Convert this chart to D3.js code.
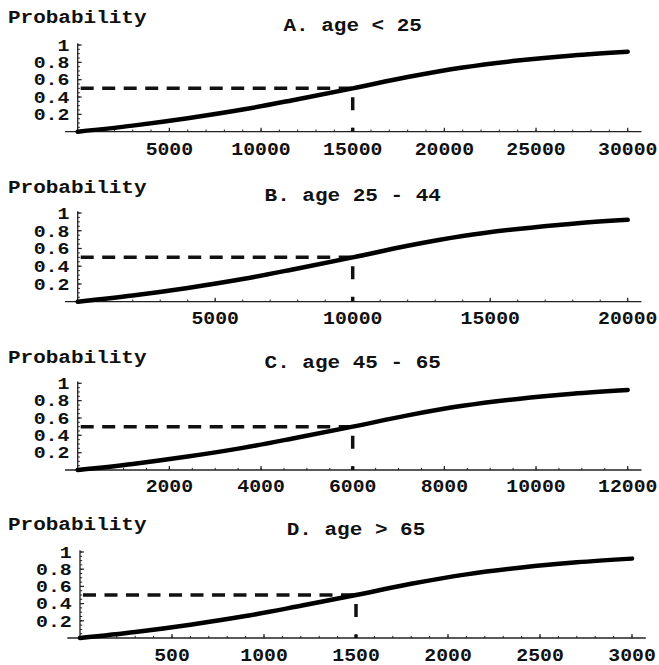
<!DOCTYPE html>
<html>
<head>
<meta charset="utf-8">
<script src="https://cdn.jsdelivr.net/npm/d3@7"></script>
<style>
  html, body { margin: 0; padding: 0; background: #fff; }
  svg { display: block; }
  text { font-family: "Liberation Mono", "Courier New", monospace; font-weight: bold; fill: #111; }
</style>
</head>
<body>
<script>
// ---- data ----
const panelTitles = ["A. age < 25", "B. age 25 - 44", "C. age 45 - 65", "D. age > 65"];
const yLabel = "Probability";
const probability = [0, 0.07, 0.155, 0.255, 0.375, 0.50, 0.63, 0.74, 0.82, 0.88, 0.923];
const incomeA = [0, 3000, 6000, 9000, 12000, 15000, 18000, 21000, 24000, 27000, 30000];
const incomeB = [0, 2000, 4000, 6000, 8000, 10000, 12000, 14000, 16000, 18000, 20000];
const incomeC = [0, 1200, 2400, 3600, 4800, 6000, 7200, 8400, 9600, 10800, 12000];
const incomeD = [0, 300, 600, 900, 1200, 1500, 1800, 2100, 2400, 2700, 3000];
const medians = [15000, 10000, 6000, 1500];
const xMax = [30000, 20000, 12000, 3000];
const xMajorTicks = [
  [5000, 10000, 15000, 20000, 25000, 30000],
  [5000, 10000, 15000, 20000],
  [2000, 4000, 6000, 8000, 10000, 12000],
  [500, 1000, 1500, 2000, 2500, 3000]
];
const xMinorStep = [1000, 1000, 500, 100];
const yTicks = [0.2, 0.4, 0.6, 0.8, 1];
const yTickLabels = ["0.2", "0.4", "0.6", "0.8", "1"];
const incomes = [incomeA, incomeB, incomeC, incomeD];

// ---- layout (pixels) ----
const W = 659, H = 665;
const layout = [
  { top: 45,    bottom: 131.7, left: 77.7, right: 627.7, probY: 22.7,  titleY: 30.7,  labelY: 155 },
  { top: 213,   bottom: 301.7, left: 77.7, right: 627.7, probY: 193.3, titleY: 200.7, labelY: 324 },
  { top: 383.3, bottom: 470,   left: 77.7, right: 627.7, probY: 363.3, titleY: 368.3, labelY: 492 },
  { top: 552,   bottom: 638,   left: 80,   right: 632,   probY: 530,   titleY: 535,   labelY: 660.5 }
];

const svg = d3.select("body").append("svg").attr("width", W).attr("height", H);

function stext(g, x, y, str, size, sx, anchor) {
  return g.append("text")
    .attr("transform", `translate(${x},${y}) scale(${sx},1)`)
    .attr("text-anchor", anchor).attr("font-size", size).text(str);
}

layout.forEach((L, i) => {
  const g = svg.append("g");
  const x = d3.scaleLinear().domain([0, xMax[i]]).range([L.left, L.right]);
  const y = d3.scaleLinear().domain([0, 1]).range([L.bottom, L.top]);

  // labels
  stext(g, 8, L.probY, yLabel, 17.5, 1.2, "start");
  stext(g, (L.left + L.right) / 2, L.titleY, panelTitles[i], 17.5, 1.2, "middle");

  // axes lines
  g.append("line")
    .attr("x1", x(-0.023 * xMax[i])).attr("x2", x(1.025 * xMax[i]))
    .attr("y1", y(0)).attr("y2", y(0))
    .attr("stroke", "#222").attr("stroke-width", 1.3);
  g.append("line")
    .attr("x1", x(0)).attr("x2", x(0))
    .attr("y1", y(0)).attr("y2", y(1.02))
    .attr("stroke", "#222").attr("stroke-width", 1.3);

  // y ticks (minor + major)
  const yMinor = d3.range(0.05, 1.001, 0.05);
  g.selectAll(".ymin").data(yMinor).enter().append("line")
    .attr("x1", x(0)).attr("x2", x(0) + 2.2)
    .attr("y1", d => y(d)).attr("y2", d => y(d))
    .attr("stroke", "#222").attr("stroke-width", 1);
  g.selectAll(".ymaj").data(yTicks).enter().append("line")
    .attr("x1", x(0)).attr("x2", x(0) + 4)
    .attr("y1", d => y(d)).attr("y2", d => y(d))
    .attr("stroke", "#222").attr("stroke-width", 1.2);
  yTicks.forEach((d, k) => {
    stext(g, 69.5 + (L.left - 77.7), y(d) + 5.8, yTickLabels[k], 17, 1.17, "end");
  });

  // x ticks
  const xMinor = d3.range(xMinorStep[i], xMax[i] + 1, xMinorStep[i]);
  g.selectAll(".xmin").data(xMinor).enter().append("line")
    .attr("x1", d => x(d)).attr("x2", d => x(d))
    .attr("y1", y(0)).attr("y2", y(0) - 2.2)
    .attr("stroke", "#222").attr("stroke-width", 1);
  g.selectAll(".xmaj").data(xMajorTicks[i]).enter().append("line")
    .attr("x1", d => x(d)).attr("x2", d => x(d))
    .attr("y1", y(0)).attr("y2", y(0) - 4)
    .attr("stroke", "#222").attr("stroke-width", 1.2);
  xMajorTicks[i].forEach(d => {
    stext(g, x(d), L.labelY, String(d), 18, 1.1, "middle");
  });

  // dashed median lines
  g.append("line")
    .attr("x1", x(0) + 3).attr("x2", x(medians[i]))
    .attr("y1", y(0.5)).attr("y2", y(0.5))
    .attr("stroke", "#111").attr("stroke-width", 3.5).attr("stroke-dasharray", "13,8.5");
  g.append("line")
    .attr("x1", x(medians[i])).attr("x2", x(medians[i]))
    .attr("y1", y(0.5)).attr("y2", y(0))
    .attr("stroke", "#111").attr("stroke-width", 3.5).attr("stroke-dasharray", "0,9,13,8.5");

  // curve
  const pts = incomes[i].map((v, k) => [v, probability[k]]);
  g.append("path").datum(pts)
    .attr("fill", "none").attr("stroke", "#000").attr("stroke-width", 4.5)
    .attr("stroke-linecap", "round")
    .attr("d", d3.line().x(d => x(d[0])).y(d => y(d[1])).curve(d3.curveMonotoneX));
});
</script>
</body>
</html>
